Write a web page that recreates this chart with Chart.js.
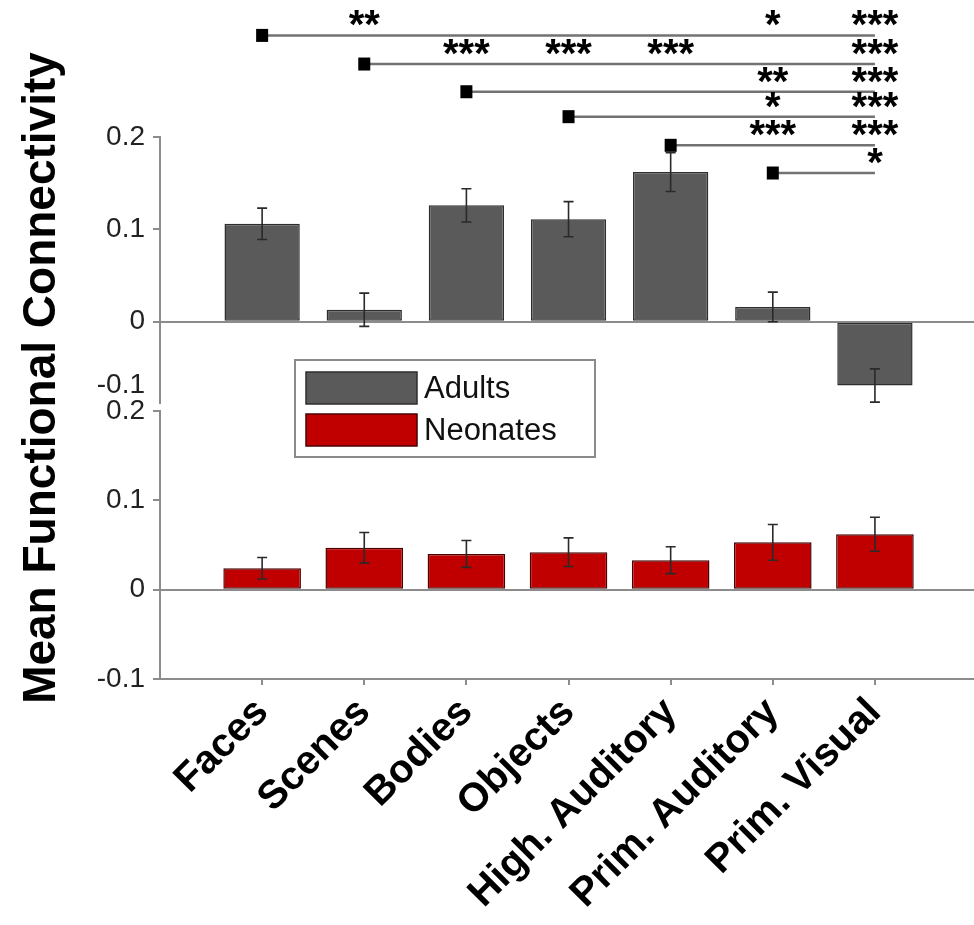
<!DOCTYPE html>
<html>
<head>
<meta charset="utf-8">
<script src="https://cdn.jsdelivr.net/npm/chart.js@4.4.1/dist/chart.umd.min.js"></script>
<style>
  html, body { margin: 0; padding: 0; background: #fff; }
  #wrap { position: relative; width: 974px; height: 925px; }
  #wrap canvas { position: absolute; left: 0; top: 0; }
</style>
</head>
<body>
<div id="wrap">
  <canvas id="adultChart" width="974" height="925"></canvas>
  <canvas id="neoChart" width="974" height="925"></canvas>
</div>
<script>
// data
const categories = ["Faces", "Scenes", "Bodies", "Objects", "High. Auditory", "Prim. Auditory", "Prim. Visual"];
const catX = categories.map((c, i) => i + 1);
const seriesNames = ["Adults", "Neonates"];

const adultMeans = [0.106, 0.013, 0.126, 0.111, 0.162, 0.016, -0.069];
const adultErrors = [0.017, 0.018, 0.018, 0.019, 0.021, 0.016, 0.018];
const neonateMeans = [0.024, 0.047, 0.040, 0.042, 0.033, 0.053, 0.062];
const neonateErrors = [0.012, 0.017, 0.015, 0.016, 0.015, 0.020, 0.019];

const yTicks = [0.2, 0.1, 0, -0.1];
const yTitle = "Mean Functional Connectivity";

// significance: each line starts at category sigFrom[k] and runs to Prim. Visual
const sigFrom = [0, 1, 2, 3, 4, 5];
const sigLevels = [0.310, 0.279, 0.249, 0.222, 0.191, 0.161];
const sigStars = [
    ["", "**", "", "", "", "*", "***"],
    ["", "", "***", "***", "***", "", "***"],
    ["", "", "", "", "", "**", "***"],
    ["", "", "", "", "", "*", "***"],
    ["", "", "", "", "", "***", "***"],
    ["", "", "", "", "", "", "*"]
];

const family = '"Liberation Sans", Arial, Helvetica, sans-serif';
const axisGray = '#8c8c8c';
const adultFill = '#5a5a5a', adultEdge = '#2e2e2e';
const neoFill = '#c00000', neoEdge = '#4a0000';

function fmt(v) { return v === 0 ? '0' : v.toFixed(1); }

function yAxis(min, max) {
    return {
        min: min,
        max: max,
        afterBuildTicks: s => { s.ticks = yTicks.filter(v => v >= min && v <= max).map(v => ({ value: v })); },
        afterFit: s => { s.width = 160; },
        ticks: { color: '#222', font: { family: family, size: 28 }, padding: 8, callback: v => fmt(v) },
        grid: {
            color: c => (c.tick && c.tick.value === 0) ? axisGray : 'rgba(0,0,0,0)',
            lineWidth: 2,
            tickColor: axisGray,
            tickLength: 7
        },
        border: { display: true, color: axisGray, width: 2 }
    };
}

const errorBars = {
    id: 'errorBars',
    afterDatasetsDraw(chart, args, opts) {
        const { ctx, scales: { x, y } } = chart;
        const pts = chart.data.datasets[0].data;
        ctx.save();
        ctx.strokeStyle = opts.color;
        ctx.lineWidth = 1.6;
        pts.forEach((d, i) => {
            const px = x.getPixelForValue(d.x);
            const top = y.getPixelForValue(d.y + opts.errors[i]);
            const bot = y.getPixelForValue(d.y - opts.errors[i]);
            ctx.beginPath();
            ctx.moveTo(px, top); ctx.lineTo(px, bot);
            ctx.moveTo(px - 5, top); ctx.lineTo(px + 5, top);
            ctx.moveTo(px - 5, bot); ctx.lineTo(px + 5, bot);
            ctx.stroke();
        });
        ctx.restore();
    }
};

const sigBrackets = {
    id: 'sigBrackets',
    afterDraw(chart) {
        const { ctx, scales: { x, y } } = chart;
        const last = catX[catX.length - 1];
        ctx.save();
        sigLevels.forEach((lv, k) => {
            const py = y.getPixelForValue(lv);
            const x0 = x.getPixelForValue(catX[sigFrom[k]]);
            const x1 = x.getPixelForValue(last);
            ctx.strokeStyle = '#727272';
            ctx.lineWidth = 2.5;
            ctx.beginPath();
            ctx.moveTo(x0, py); ctx.lineTo(x1, py);
            ctx.stroke();
            ctx.fillStyle = '#000';
            ctx.fillRect(x0 - 6, py - 6.5, 12, 13);
            ctx.font = `bold 40px ${family}`;
            ctx.textAlign = 'center';
            ctx.textBaseline = 'alphabetic';
            sigStars[k].forEach((s, j) => {
                if (s) ctx.fillText(s, x.getPixelForValue(catX[j]), py + 3);
            });
        });
        // the top panel's lowest tick label sits just above its axis end
        ctx.font = `28px ${family}`;
        ctx.fillStyle = '#222';
        ctx.textAlign = 'right';
        ctx.textBaseline = 'middle';
        ctx.fillText(fmt(yTicks[3]), y.left + y.width - 15, y.bottom - 18);
        ctx.restore();
    }
};

const overlay = {
    id: 'overlay',
    afterDraw(chart) {
        const ctx = chart.ctx;
        ctx.save();
        ctx.translate(42, 378);
        ctx.rotate(-Math.PI / 2);
        ctx.font = `bold 46px ${family}`;
        ctx.fillStyle = '#000';
        ctx.textAlign = 'center';
        ctx.textBaseline = 'middle';
        ctx.fillText(yTitle, 0, 0);
        ctx.restore();

        // legend box
        const entries = [
            { label: seriesNames[0], fill: adultFill, edge: adultEdge },
            { label: seriesNames[1], fill: neoFill, edge: neoEdge }
        ];
        ctx.save();
        ctx.fillStyle = '#fff';
        ctx.fillRect(295, 360, 300, 97);
        ctx.strokeStyle = '#8a8a8a';
        ctx.lineWidth = 2;
        ctx.strokeRect(295, 360, 300, 97);
        entries.forEach((e, i) => {
            const top = 372 + i * 42;
            ctx.fillStyle = e.fill;
            ctx.fillRect(306, top, 111, 32);
            ctx.strokeStyle = e.edge;
            ctx.lineWidth = 1.5;
            ctx.strokeRect(306, top, 111, 32);
            ctx.fillStyle = '#111';
            ctx.font = `31px ${family}`;
            ctx.textAlign = 'left';
            ctx.textBaseline = 'middle';
            ctx.fillText(e.label, 424, top + 17);
        });
        ctx.restore();
    }
};

const xMax = 7.97;

// ADULTS (top panel)
new Chart(document.getElementById('adultChart'), {
    type: 'bar',
    data: {
        datasets: [{
            label: seriesNames[0],
            data: catX.map((x, i) => ({ x: x, y: adultMeans[i] })),
            backgroundColor: adultFill,
            borderColor: adultEdge,
            borderWidth: 1.5,
            borderSkipped: false,
            barPercentage: 0.76,
            categoryPercentage: 1
        }]
    },
    options: {
        responsive: false,
        animation: false,
        devicePixelRatio: 1,
        layout: { padding: { top: 137, bottom: 522, left: 0, right: 0 } },
        plugins: {
            legend: { display: false },
            tooltip: { enabled: false },
            errorBars: { errors: adultErrors, color: '#2a2a2a' }
        },
        scales: {
            x: { type: 'linear', min: 0, max: xMax, offset: false, display: false, grid: { offset: false } },
            y: yAxis(-0.088, 0.2)
        }
    },
    plugins: [errorBars, sigBrackets]
});

// NEONATES (bottom panel)
new Chart(document.getElementById('neoChart'), {
    type: 'bar',
    data: {
        datasets: [{
            label: seriesNames[1],
            data: catX.map((x, i) => ({ x: x, y: neonateMeans[i] })),
            backgroundColor: neoFill,
            borderColor: neoEdge,
            borderWidth: 1.5,
            borderSkipped: false,
            barPercentage: 0.76,
            categoryPercentage: 1
        }]
    },
    options: {
        responsive: false,
        animation: false,
        devicePixelRatio: 1,
        layout: { padding: { top: 411, bottom: 0, left: 0, right: 0 } },
        plugins: {
            legend: { display: false },
            tooltip: { enabled: false },
            errorBars: { errors: neonateErrors, color: '#2a2a2a' }
        },
        scales: {
            x: {
                type: 'linear', min: 0, max: xMax, offset: false,
                afterBuildTicks: s => { s.ticks = catX.map(v => ({ value: v })); },
                afterFit: s => { s.height = 246; },
                ticks: {
                    autoSkip: false, minRotation: 45, maxRotation: 45,
                    color: '#000', font: { family: family, size: 40, weight: 'bold' }, padding: 4,
                    callback: v => categories[v - 1]
                },
                grid: { offset: false, drawOnChartArea: false, color: axisGray, tickColor: axisGray, tickLength: 6, lineWidth: 2 },
                border: { display: true, color: axisGray, width: 2 }
            },
            y: yAxis(-0.1, 0.2)
        }
    },
    plugins: [errorBars, overlay]
});
</script>
</body>
</html>
